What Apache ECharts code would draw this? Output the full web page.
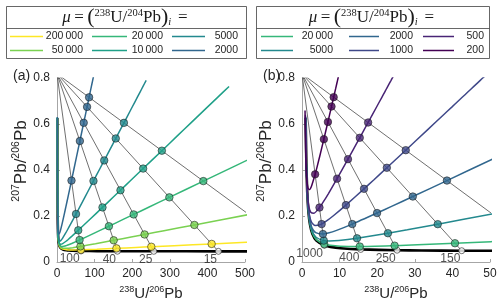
<!DOCTYPE html>
<html><head><meta charset="utf-8">
<script src="https://cdn.jsdelivr.net/npm/echarts@6/dist/echarts.min.js"></script>
<style>html,body{margin:0;padding:0;background:#fff}#c{width:500px;height:304px}</style>
</head><body><div id="c"></div>
<script>
// [age (Ma), 238U/206Pb, 207Pb/206Pb]
const concordia = [[10,644.1,0.04626],[15,429.3,0.04636],[25,257.4,0.04655],[40,160.66,0.04684],[60,106.94,0.04723],[100,63.97,0.04804],[150,42.48,0.04907],[200,31.73,0.05013],[250,25.29,0.05123],[400,15.62,0.05472],[600,10.252,0.05993],[800,7.568,0.06583],[1000,5.959,0.07253],[1500,3.817,0.09365],[2000,2.749,0.12305],[2500,2.111,0.16433],[3000,1.687,0.22275],[3500,1.387,0.30597],[4000,1.163,0.4252],[4570,0.969,0.6265]];
const commonPb = [0, 0.8182];
const mu200000 = [[10,604.5,0.0937],[15,411.3,0.07865],[20,311.6,0.07094],[25,250.8,0.06627],[30,209.8,0.06315],[40,158.07,0.05929],[60,105.78,0.05559],[100,63.55,0.05308],[150,42.29,0.05245],[200,31.63,0.05267],[250,25.22,0.05327],[400,15.6,0.05601],[600,10.24,0.0608],[1000,5.955,0.07305],[1500,3.815,0.09401],[2000,2.748,0.1233],[3000,1.687,0.2229],[4570,0.969,0.6265]];
const mu50000 = [[7,669.8,0.2564],[10,510.4,0.2065],[15,365.4,0.1611],[20,284.5,0.1359],[25,232.9,0.1198],[30,197.15,0.1087],[40,150.76,0.09435],[60,102.45,0.07961],[100,62.32,0.06783],[150,41.74,0.06241],[200,31.32,0.06021],[250,25.02,0.05933],[400,15.52,0.05984],[600,10.21,0.06338],[1000,5.942,0.07463],[1500,3.809,0.09507],[2000,2.745,0.1241],[3000,1.686,0.2234],[4570,0.968,0.6266]];
const mu20000 = [[3,675.2,0.5756],[5,558.1,0.4839],[7,475.6,0.4193],[10,389.2,0.3517],[15,298.8,0.281],[20,242.4,0.2369],[25,203.9,0.2069],[30,175.93,0.1851],[40,138.01,0.1556],[60,96.38,0.1234],[100,60.01,0.09568],[150,40.68,0.08158],[200,30.72,0.07483],[250,24.63,0.07116],[400,15.36,0.06739],[600,10.14,0.06849],[800,7.503,0.07232],[1000,5.917,0.07776],[1500,3.798,0.09718],[2000,2.739,0.1257],[2500,2.104,0.16639],[3000,1.683,0.2244],[3500,1.3835,0.3072],[4000,1.1604,0.42606],[4570,0.967,0.6269]];
const mu10000 = [[1,457.6,0.7634],[2,427.2,0.7159],[3,400.6,0.6743],[5,356.2,0.6049],[7,320.6,0.5493],[10,278.9,0.484],[15,229.1,0.4062],[20,194.4,0.352],[25,168.8,0.312],[30,149.17,0.2814],[40,120.96,0.2374],[60,87.72,0.1858],[100,56.51,0.1378],[150,39.03,0.1115],[200,29.76,0.09799],[250,24.01,0.09009],[400,15.11,0.07964],[600,10.02,0.07686],[1000,5.876,0.08292],[1500,3.78,0.1007],[2000,2.728,0.1283],[3000,1.678,0.226],[4570,0.965,0.6273]];
const mu5000 = [[1,237.2,0.7898],[2,228.75,0.7634],[3,220.9,0.7389],[5,206.65,0.6944],[7,194.15,0.6554],[10,177.97,0.6049],[15,156.27,0.5372],[20,139.28,0.4842],[25,125.61,0.4416],[30,114.37,0.4066],[40,97.0,0.3525],[60,74.36,0.2822],[100,50.61,0.2088],[150,36.1,0.1645],[200,28.01,0.1402],[250,22.85,0.1252],[400,14.63,0.103],[600,9.804,0.09306],[800,7.314,0.09112],[1000,5.795,0.09302],[1500,3.744,0.1075],[2000,2.708,0.1335],[2500,2.084,0.17249],[3000,1.669,0.2292],[3500,1.3736,0.31088],[4000,1.1529,0.42862],[4570,0.9615,0.628]];
const mu2000 = [[1,97.02,0.8066],[2,95.57,0.7953],[3,94.16,0.7844],[5,91.46,0.7634],[7,88.91,0.7437],[10,85.34,0.716],[15,79.98,0.6744],[20,75.25,0.6378],[25,71.05,0.6052],[30,67.29,0.5761],[40,60.84,0.5261],[60,51.03,0.4503],[100,38.55,0.3541],[150,29.47,0.2846],[200,23.82,0.2417],[250,19.96,0.2128],[400,13.37,0.1649],[600,9.201,0.1377],[800,6.963,0.12603],[1000,5.566,0.1217],[1500,3.639,0.1274],[2000,2.648,0.1485],[2500,2.046,0.18435],[3000,1.643,0.2386],[3500,1.354,0.31808],[4000,1.138,0.43364],[4570,0.950,0.6302]];
const mu1000 = [[1,48.88,0.8124],[2,48.505,0.8066],[3,48.135,0.8009],[5,47.41,0.7898],[7,46.71,0.779],[10,45.7,0.7635],[15,44.1,0.7389],[20,42.61,0.716],[25,41.21,0.6947],[30,39.91,0.6746],[40,37.52,0.6381],[60,33.51,0.5766],[100,27.59,0.4861],[150,22.56,0.4097],[200,19.07,0.3568],[250,16.49,0.3181],[400,11.68,0.2473],[600,8.345,0.2009],[800,6.447,0.17731],[1000,5.221,0.1648],[1500,3.477,0.1582],[2000,2.555,0.1722],[2500,1.985,0.20317],[3000,1.6,0.2536],[3500,1.323,0.32964],[4000,1.114,0.44173],[4570,0.932,0.6339]];
const mu500 = [[1,24.53,0.8153],[2,24.44,0.8124],[3,24.34,0.8095],[5,24.15,0.8038],[7,23.96,0.7981],[10,23.69,0.7898],[15,23.24,0.7764],[20,22.81,0.7635],[25,22.4,0.7511],[30,22.0,0.739],[40,21.24,0.7162],[60,19.87,0.675],[100,17.58,0.6065],[150,15.36,0.5401],[200,13.63,0.4884],[250,12.23,0.4472],[400,9.327,0.3623],[600,7.037,0.2977],[800,5.615,0.26002],[1000,4.646,0.2368],[1500,3.193,0.2122],[2000,2.386,0.2149],[2500,1.874,0.23766],[3000,1.522,0.2813],[3500,1.264,0.35122],[4000,1.069,0.45692],[4570,0.897,0.6407]];
const mu200 = [[1,9.836,0.8171],[5,9.77,0.8124],[10,9.689,0.8066],[20,9.531,0.7954],[30,9.378,0.7845],[40,9.229,0.7739],[60,8.945,0.7537],[100,8.423,0.7168],[150,7.847,0.6761],[200,7.342,0.6405],[250,6.894,0.6091],[400,5.814,0.5341],[600,4.786,0.4642],[800,4.048,0.41581],[1000,3.492,0.3812],[1500,2.564,0.3316],[2000,1.991,0.3147],[2500,1.604,0.32125],[3000,1.326,0.3504],[3500,1.116,0.40587],[4000,0.954,0.49595],[4570,0.808,0.6584]];

const isoAgesA = [10, 15, 25, 40, 100];
const isoAgesB = [100, 150, 250, 400, 1000];
const labelAgesA = [100, 40, 25, 15];
const labelAgesB = [1000, 400, 250, 150];
const muListA = [200000, 50000, 20000, 10000, 5000, 2000];
const muListB = [20000, 5000, 2000, 1000, 500, 200];
const legendA = [[200000, 20000, 5000], [50000, 10000, 2000]];
const legendB = [[20000, 2000, 500], [5000, 1000, 200]];

const curves = {200000: mu200000, 50000: mu50000, 20000: mu20000, 10000: mu10000, 5000: mu5000, 2000: mu2000, 1000: mu1000, 500: mu500, 200: mu200};
const colors = {200000:'#fde725', 50000:'#7ad151', 20000:'#35b779', 10000:'#1fa088', 5000:'#23898e', 2000:'#31678e', 1000:'#3f4889', 500:'#482475', 200:'#440154'};

const SANS = 'Liberation Sans, Arial, sans-serif';
const SERIF = 'Liberation Serif, Times New Roman, serif';
const TXT = '#262626';

function panelSeries(gi, isoAges, labelAges, mus) {
  const s = [];
  const base = {xAxisIndex: gi, yAxisIndex: gi, animation: false, silent: true, zlevel: 1};
  isoAges.forEach(age => {
    const c = concordia.find(p => p[0] === age);
    s.push(Object.assign({type: 'line', data: [commonPb, [c[1], c[2]]], symbol: 'none',
      lineStyle: {color: '#4a4a4a', width: 0.8}, z: 1}, base));
  });
  s.push(Object.assign({type: 'line', data: concordia.map(p => [p[1], p[2]]), symbol: 'none', smooth: 0.2,
    lineStyle: {color: '#000', width: 2.6}, z: 2}, base));
  mus.forEach((mu, k) => {
    s.push(Object.assign({type: 'line', data: curves[mu].map(p => [p[1], p[2]]), symbol: 'none', smooth: 0.2,
      lineStyle: {color: colors[mu], width: 1.5}, z: 3 + k}, base));
  });
  s.push(Object.assign({type: 'scatter', symbolSize: 6, z: 20,
    itemStyle: {color: '#fff', borderColor: '#222', borderWidth: 0.8},
    data: isoAges.map(age => {
      const c = concordia.find(p => p[0] === age);
      const lab = labelAges.indexOf(age) >= 0;
      return {value: [c[1], c[2]], label: {show: lab, formatter: String(age)}};
    }),
    label: {position: 'left', distance: 0, offset: [2, 8], fontSize: 12, fontFamily: SANS, color: TXT}
  }, base));
  mus.forEach(mu => {
    s.push(Object.assign({type: 'scatter', symbolSize: 7.5, z: 21,
      itemStyle: {color: colors[mu], borderColor: '#1a1a1a', borderWidth: 0.7},
      data: curves[mu].filter(p => isoAges.indexOf(p[0]) >= 0).map(p => [p[1], p[2]])}, base));
  });
  return s;
}

const xRich = {
  s: {fontSize: 9, lineHeight: 10, verticalAlign: 'top', fontFamily: SANS, color: TXT},
  n: {fontSize: 15, lineHeight: 18, fontFamily: SANS, color: TXT}
};
const yRich = {
  s: {fontSize: 10.5, lineHeight: 11, verticalAlign: 'top', fontFamily: SANS, color: TXT},
  n: {fontSize: 17, lineHeight: 20, fontFamily: SANS, color: TXT}
};
function xAx(gi, max, interval) {
  return {gridIndex: gi, type: 'value', min: 0, max: max, interval: interval, z: 0,
    axisLine: {show: true, onZero: false, lineStyle: {color: '#a6a6a6', width: 1}},
    axisTick: {show: true, inside: true, length: 3, lineStyle: {color: '#a6a6a6'}},
    axisLabel: {color: TXT, fontSize: 12, fontFamily: SANS, margin: 6},
    splitLine: {show: false},
    name: '{s|238}{n|U/}{s|206}{n|Pb}', nameLocation: 'middle', nameGap: 5,
    nameTextStyle: {rich: xRich}};
}
function yAx(gi) {
  return {gridIndex: gi, type: 'value', min: 0, max: 0.8, interval: 0.2, z: 0,
    axisLine: {show: true, onZero: false, lineStyle: {color: '#a6a6a6', width: 1}},
    axisTick: {show: true, inside: true, length: 3, lineStyle: {color: '#a6a6a6'}},
    axisLabel: {color: TXT, fontSize: 12, fontFamily: SANS, margin: 7,
      formatter: v => (Math.abs(v) < 1e-9 ? '0' : v.toFixed(1))},
    splitLine: {show: false},
    name: '{s|207}{n|Pb/}{s|206}{n|Pb}', nameLocation: 'middle', nameGap: 15, nameRotate: 90,
    nameTextStyle: {rich: yRich, padding: [0, 0, 0, 18]}};
}

function fmtMu(mu) {
  const s = String(mu);
  return mu >= 10000 ? s.slice(0, s.length - 3) + '\u2009' + s.slice(-3) : s;
}
function legendGraphics(x0, x1, cols, rows) {
  const g = [];
  g.push({type: 'rect', shape: {x: x0 + 0.5, y: 6.5, width: x1 - x0, height: 52},
    style: {fill: '#fff', stroke: '#404040', lineWidth: 0.8}, z: 10});
  g.push({type: 'line', shape: {x1: x0 + 0.5, y1: 28.5, x2: x1 + 0.5, y2: 28.5},
    style: {stroke: '#404040', lineWidth: 0.8}, z: 10});
  g.push({type: 'text', x: (x0 + x1) / 2 - 1, y: 17.5, z: 11, style: {
    text: '{m|\u03bc}{t|\u2009=\u2009}{p|(}{u|238}{t|U/}{u|204}{t|Pb}{p|)}{d|i}{t|\u2009\u2009=}',
    align: 'center', verticalAlign: 'middle',
    rich: {
      t: {fontFamily: SERIF, fontSize: 17, lineHeight: 20, fill: '#1a1a1a'},
      m: {fontFamily: SERIF, fontSize: 17, lineHeight: 20, fontStyle: 'italic', fill: '#1a1a1a'},
      p: {fontFamily: SERIF, fontSize: 22, lineHeight: 20, fill: '#1a1a1a'},
      u: {fontFamily: SERIF, fontSize: 10.5, lineHeight: 10, verticalAlign: 'top', fill: '#1a1a1a'},
      d: {fontFamily: SERIF, fontSize: 10.5, lineHeight: 10, verticalAlign: 'bottom', fontStyle: 'italic', fill: '#1a1a1a'}
    }}});
  const ys = [36.5, 50.5];
  rows.forEach((row, r) => {
    row.forEach((mu, c) => {
      const col = cols[c];
      g.push({type: 'line', shape: {x1: col[0], y1: ys[r], x2: col[1], y2: ys[r]},
        style: {stroke: colors[mu], lineWidth: 1.5}, z: 11});
      g.push({type: 'text', x: col[2], y: ys[r], z: 11, style: {text: fmtMu(mu), fill: TXT,
        fontSize: 10.5, fontFamily: SANS, align: 'right', verticalAlign: 'middle'}});
    });
  });
  return g;
}

const graphics = [].concat(
  legendGraphics(6, 246, [[10, 43, 83], [92, 127, 163], [172, 205, 238]], legendA),
  legendGraphics(256, 489, [[261, 293, 333], [349, 379, 413], [423, 454, 484]], legendB),
  [{type: 'text', x: 13, y: 76, style: {text: '(a)', fill: TXT, fontSize: 14, fontFamily: SANS, verticalAlign: 'middle'}},
   {type: 'text', x: 263, y: 76, style: {text: '(b)', fill: TXT, fontSize: 14, fontFamily: SANS, verticalAlign: 'middle'}}]
);

const chart = echarts.init(document.getElementById('c'), null, {renderer: 'canvas'});
chart.setOption({
  backgroundColor: '#fff',
  animation: false,
  grid: [
    {left: 57, top: 78, width: 188, height: 184, outerBoundsMode: 'none'},
    {left: 302, top: 78, width: 188, height: 184, outerBoundsMode: 'none'}
  ],
  xAxis: [xAx(0, 500, 100), xAx(1, 50, 10)],
  yAxis: [yAx(0), yAx(1)],
  series: [].concat(panelSeries(0, isoAgesA, labelAgesA, muListA), panelSeries(1, isoAgesB, labelAgesB, muListB)),
  graphic: graphics
});
</script></body></html>
